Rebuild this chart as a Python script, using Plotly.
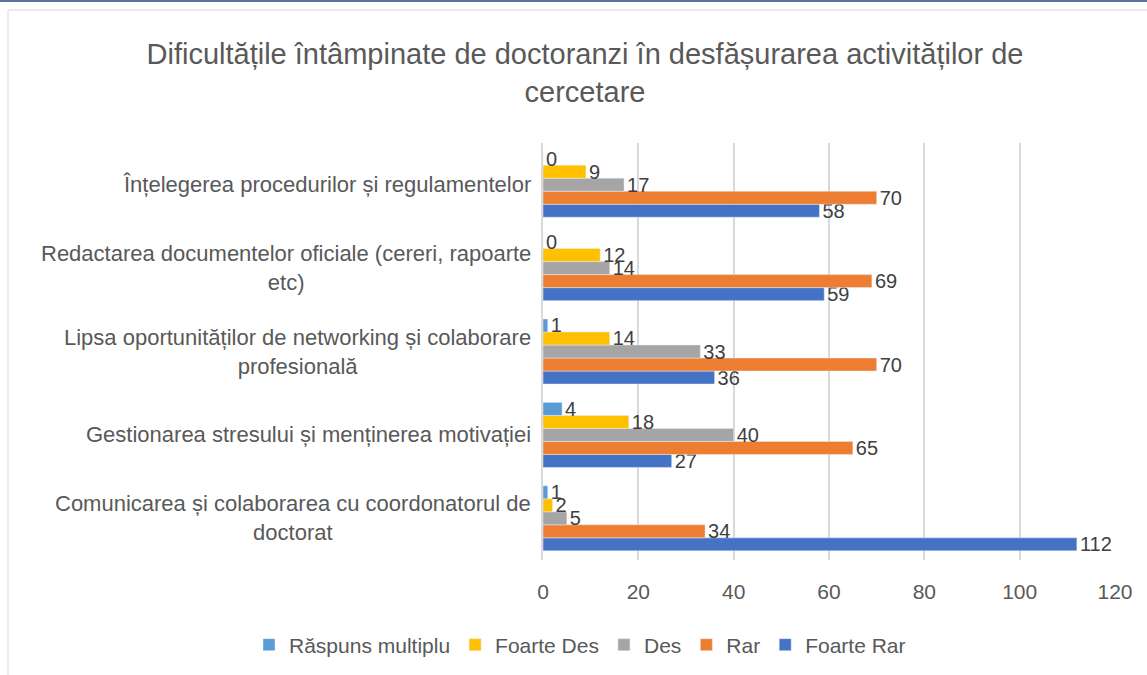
import plotly.graph_objects as go

categories = [
    "Comunicarea și colaborarea cu coordonatorul de<br>doctorat",
    "Gestionarea stresului și menținerea motivației",
    "Lipsa oportunităților de networking și colaborare<br>profesională",
    "Redactarea documentelor oficiale (cereri, rapoarte<br>etc)",
    "Înțelegerea procedurilor și regulamentelor",
]
foarte_rar = [112, 27, 36, 59, 58]
rar = [34, 65, 70, 69, 70]
des = [5, 40, 33, 14, 17]
foarte_des = [2, 18, 14, 12, 9]
raspuns_multiplu = [1, 4, 1, 0, 0]

series = [
    ("Foarte Rar", foarte_rar, "#4472C4"),
    ("Rar", rar, "#ED7D31"),
    ("Des", des, "#A5A5A5"),
    ("Foarte Des", foarte_des, "#FFC000"),
    ("Răspuns multiplu", raspuns_multiplu, "#5B9BD5"),
]

font_family = "Liberation Sans, Arial, sans-serif"

fig = go.Figure()
for name, vals, color in series:
    fig.add_trace(go.Bar(
        y=categories, x=vals, name=name, orientation="h",
        marker=dict(color=color),
        text=[str(v) for v in vals], textposition="outside",
        constraintext="none",
        textfont=dict(size=20, color="#404040", family=font_family),
        cliponaxis=False,
    ))

W, H = 1147, 675
ml, mr, mt, mb = 543, 32, 143, 115
pw = W - ml - mr
ph = H - mt - mb

annotations = []
for c in categories:
    annotations.append(dict(
        xref="paper", yref="y", x=0, y=c, xanchor="right", yanchor="middle",
        xshift=-10, text=c, showarrow=False, align="center",
        font=dict(size=22, color="#595959", family=font_family),
    ))

def px(xv):
    return (xv - ml) / pw

def py(yv):
    return 1 - (yv - mt) / ph

shapes = [
    dict(type="rect", xref="paper", yref="paper",
         x0=px(8), x1=px(1160), y0=py(700), y1=py(10),
         line=dict(color="#D9D9D9", width=1), fillcolor="rgba(0,0,0,0)", layer="below"),
    dict(type="line", xref="paper", yref="paper",
         x0=px(0), x1=px(1147), y0=py(1), y1=py(1),
         line=dict(color="#5A7599", width=2)),
]

fig.update_layout(
    width=W, height=H,
    margin=dict(l=ml, r=mr, t=mt, b=mb, autoexpand=False),
    paper_bgcolor="white", plot_bgcolor="white",
    font=dict(family=font_family, color="#595959"),
    title=dict(
        text="Dificultățile întâmpinate de doctoranzi în desfășurarea activităților de<br>cercetare",
        xref="container", yref="container",
        x=585 / W, xanchor="center", y=1 - 64 / H, yanchor="middle",
        font=dict(size=29, color="#595959", family=font_family),
    ),
    barmode="group", bargap=0.22, bargroupgap=0,
    xaxis=dict(range=[0, 120], dtick=20, showgrid=True, gridcolor="#D9D9D9",
               gridwidth=1.5, zeroline=False, ticks="", ticklabelstandoff=17,
               tickfont=dict(size=21, color="#595959")),
    yaxis=dict(showticklabels=False, showgrid=False, showline=True,
               linecolor="#D9D9D9", linewidth=1.5, ticks=""),
    legend=dict(orientation="h", x=px(249), xanchor="left",
                y=py(645), yanchor="middle", traceorder="reversed",
                itemwidth=30,
                font=dict(size=21, color="#595959")),
    annotations=annotations,
    shapes=shapes,
    showlegend=True,
)

fig.write_html("out.html", config={"displayModeBar": False},
               post_script="document.body.style.margin='0';")
